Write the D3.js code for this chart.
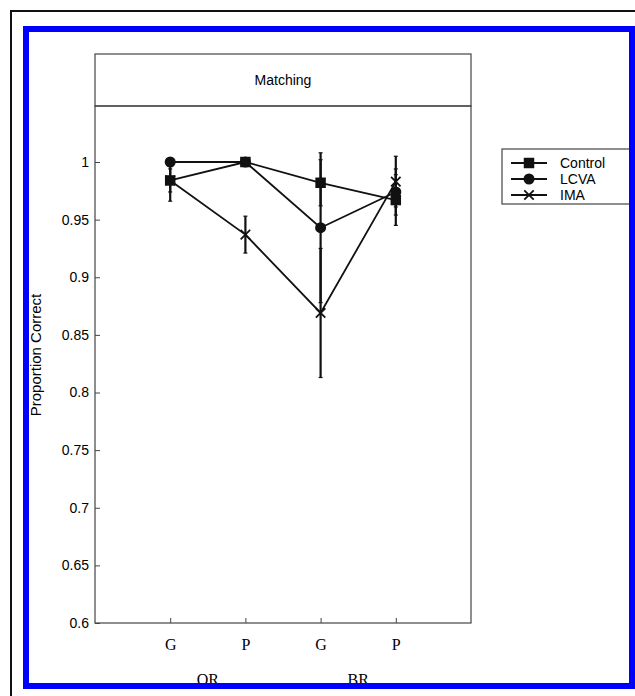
<!DOCTYPE html>
<html lang="en">
<head>
<meta charset="UTF-8">
<title>Matching</title>
<script src="https://cdn.jsdelivr.net/npm/d3@7"></script>
<style>
  body { margin: 0; background: #fff; }
  svg { display: block; }
</style>
</head>
<body>
<script>
// categories along x (two per group)
const xLabels = ["G", "P", "G", "P"];
const groups = ["OR", "BR"];
const yTicks = [0.6, 0.65, 0.7, 0.75, 0.8, 0.85, 0.9, 0.95, 1];

// proportion correct
const controlVals = [0.984, 1.0, 0.982, 0.967];
const controlErr  = [0.018, 0, 0.02, 0.022];
const lcvaVals    = [1.0, 1.0, 0.943, 0.974];
const lcvaErr     = [0, 0, 0.065, 0.02];
const imaVals     = [0.984, 0.937, 0.869, 0.983];
const imaErr      = [0.01, 0.016, 0.056, 0.022];

const seriesNames = ["Control", "LCVA", "IMA"];

const width = 635, height = 696;
const plotLeft = 95, plotRight = 471, plotTop = 106, plotBottom = 623, titleTop = 54;

const svg = d3.select("body").append("svg")
  .attr("width", width).attr("height", height);

const x = d3.scaleLinear().domain([0, 5]).range([plotLeft, plotRight]);
const y = d3.scaleLinear().domain([0.6, 1.0486]).range([plotBottom, plotTop]);

// title box
svg.append("rect")
  .attr("x", plotLeft).attr("y", titleTop)
  .attr("width", plotRight - plotLeft).attr("height", plotTop - titleTop)
  .attr("fill", "none").attr("stroke", "#444").attr("stroke-width", 1.2);
svg.append("text")
  .attr("x", (plotLeft + plotRight) / 2).attr("y", (titleTop + plotTop) / 2 + 5)
  .attr("text-anchor", "middle")
  .style("font", "14px 'Liberation Sans', Arial, sans-serif")
  .text("Matching");

// plot frame
svg.append("rect")
  .attr("x", plotLeft).attr("y", plotTop)
  .attr("width", plotRight - plotLeft).attr("height", plotBottom - plotTop)
  .attr("fill", "none").attr("stroke", "#444").attr("stroke-width", 1.2);

const yAxis = svg.append("g")
  .attr("transform", `translate(${plotLeft},0)`)
  .call(d3.axisLeft(y).tickValues(yTicks).tickFormat(d => String(+d.toFixed(2)))
    .tickSizeInner(-5).tickSizeOuter(0).tickPadding(6));
yAxis.select(".domain").remove();
yAxis.selectAll("line").attr("stroke", "#444");
yAxis.selectAll("text")
  .style("font", "14px 'Liberation Sans', Arial, sans-serif").attr("fill", "#000");

const xAxis = svg.append("g")
  .attr("transform", `translate(0,${plotBottom})`)
  .call(d3.axisBottom(x).tickValues([1, 2, 3, 4]).tickFormat(d => xLabels[d - 1])
    .tickSizeInner(-5).tickSizeOuter(0).tickPadding(16));
xAxis.select(".domain").remove();
xAxis.selectAll("line").attr("stroke", "#444");
xAxis.selectAll("text")
  .style("font", "16px 'Liberation Serif', 'Times New Roman', serif").attr("fill", "#000");

// group labels (partly hidden by the frame)
svg.selectAll(".group")
  .data(groups)
  .enter().append("text")
  .attr("class", "group")
  .attr("x", (d, i) => x(i * 2 + 1.5))
  .attr("y", 685)
  .attr("text-anchor", "middle")
  .style("font", "16px 'Liberation Serif', 'Times New Roman', serif")
  .text(d => d);

// y label
svg.append("text")
  .attr("transform", "translate(41,355) rotate(-90)")
  .attr("text-anchor", "middle")
  .style("font", "15px 'Liberation Sans', Arial, sans-serif")
  .text("Proportion Correct");

const series = [
  { name: seriesNames[0], vals: controlVals, err: controlErr, marker: "square" },
  { name: seriesNames[1], vals: lcvaVals, err: lcvaErr, marker: "circle" },
  { name: seriesNames[2], vals: imaVals, err: imaErr, marker: "cross" }
];

const line = d3.line().x((d, i) => x(i + 1)).y(d => y(d));

function drawMarker(g, type, cx, cy) {
  if (type === "square") {
    g.append("path").attr("d", d3.symbol(d3.symbolSquare, 110)())
      .attr("transform", `translate(${cx},${cy})`).attr("fill", "#111");
  } else if (type === "circle") {
    g.append("path").attr("d", d3.symbol(d3.symbolCircle, 95)())
      .attr("transform", `translate(${cx},${cy})`).attr("fill", "#111");
  } else {
    g.append("path").attr("d", d3.symbol(d3.symbolTimes, 60)())
      .attr("transform", `translate(${cx},${cy})`)
      .attr("fill", "none").attr("stroke", "#111").attr("stroke-width", 1.8);
  }
}

const plot = svg.append("g");

series.forEach(s => {
  // error bars
  s.vals.forEach((v, i) => {
    if (s.err[i] <= 0) return;
    plot.append("line")
      .attr("x1", x(i + 1)).attr("x2", x(i + 1))
      .attr("y1", y(v - s.err[i])).attr("y2", y(v + s.err[i]))
      .attr("stroke", "#111").attr("stroke-width", 2.2);
    [v - s.err[i], v + s.err[i]].forEach(e => {
      plot.append("line")
        .attr("x1", x(i + 1) - 2).attr("x2", x(i + 1) + 2)
        .attr("y1", y(e)).attr("y2", y(e))
        .attr("stroke", "#111").attr("stroke-width", 1.2);
    });
  });
  plot.append("path")
    .attr("d", line(s.vals))
    .attr("fill", "none").attr("stroke", "#111").attr("stroke-width", 1.8);
});

series.forEach(s => {
  s.vals.forEach((v, i) => drawMarker(plot, s.marker, x(i + 1), y(v)));
});

// legend
const legend = svg.append("g");
legend.append("rect")
  .attr("x", 502).attr("y", 149).attr("width", 140).attr("height", 55)
  .attr("fill", "#fff").attr("stroke", "#444").attr("stroke-width", 1.2);
series.forEach((s, i) => {
  const ly = 163 + i * 16;
  legend.append("line")
    .attr("x1", 511).attr("x2", 547).attr("y1", ly).attr("y2", ly)
    .attr("stroke", "#111").attr("stroke-width", 1.8);
  drawMarker(legend, s.marker, 529, ly);
  legend.append("text")
    .attr("x", 560).attr("y", ly + 5)
    .style("font", "14px 'Liberation Sans', Arial, sans-serif")
    .text(s.name);
});

// outer frames
svg.append("rect")
  .attr("x", 11).attr("y", 11).attr("width", 700).attr("height", 760)
  .attr("fill", "none").attr("stroke", "#111").attr("stroke-width", 2);
svg.append("rect")
  .attr("x", 26).attr("y", 29).attr("width", 606).attr("height", 657)
  .attr("fill", "none").attr("stroke", "#0000ff").attr("stroke-width", 6);
</script>
</body>
</html>
